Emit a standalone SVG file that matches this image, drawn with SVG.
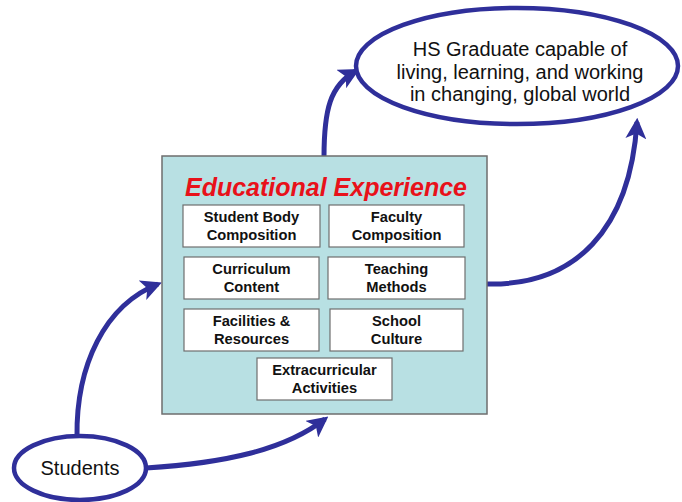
<svg xmlns="http://www.w3.org/2000/svg" width="682" height="502" viewBox="0 0 682 502">
<defs>
<marker id="ah" viewBox="0 0 10 10" refX="8" refY="5" markerWidth="4.2" markerHeight="4.2" orient="auto" markerUnits="strokeWidth">
<path d="M0,0 L10,5 L0,10 L2.5,5 z" fill="#2f2f9a"/>
</marker>
<style>
.conn{fill:none;stroke:#2f2f9a;stroke-width:5;marker-end:url(#ah)}
.ell{fill:#ffffff;stroke:#2f2f9a;stroke-width:4.5}
.box{fill:#ffffff;stroke:#6e6e6e;stroke-width:1.2}
.t{font-family:"Liberation Sans",Arial,sans-serif;font-weight:bold;font-size:14.7px;fill:#111;text-anchor:middle}
.e{font-family:"Liberation Sans",Arial,sans-serif;font-size:20px;fill:#111;text-anchor:middle}
</style>
</defs>
<rect width="682" height="502" fill="#ffffff"/>
<g id="connectors">
<path class="conn" d="M77,437 C76,365 105,305 158,284"/>
<path class="conn" d="M146,468 C225,463 285,450 325,419"/>
<path class="conn" d="M324,157 C324,110 330,85 356,71"/>
<path class="conn" d="M487,284 C575,286 630,230 637,122"/>
</g>
<g id="main">
<rect x="162" y="156" width="325" height="258" fill="#b8e0e3" stroke="#6e6e6e" stroke-width="1.5"/>
<text x="326" y="196" font-family="'Liberation Sans',Arial,sans-serif" font-weight="bold" font-style="italic" font-size="25" fill="#e8111a" text-anchor="middle">Educational Experience</text>
</g>
<g id="n1"><rect class="box" x="183" y="205" width="137" height="42"/><text class="t" x="251.5" y="222">Student Body</text><text class="t" x="251.5" y="240">Composition</text></g>
<g id="n2"><rect class="box" x="329" y="205" width="135" height="42"/><text class="t" x="396.5" y="222">Faculty</text><text class="t" x="396.5" y="240">Composition</text></g>
<g id="n3"><rect class="box" x="184" y="257" width="135" height="42"/><text class="t" x="251.5" y="274">Curriculum</text><text class="t" x="251.5" y="292">Content</text></g>
<g id="n4"><rect class="box" x="328" y="257" width="137" height="42"/><text class="t" x="396.5" y="274">Teaching</text><text class="t" x="396.5" y="292">Methods</text></g>
<g id="n5"><rect class="box" x="184" y="309" width="135" height="42"/><text class="t" x="251.5" y="326">Facilities &amp;</text><text class="t" x="251.5" y="344">Resources</text></g>
<g id="n6"><rect class="box" x="330" y="309" width="133" height="42"/><text class="t" x="396.5" y="326">School</text><text class="t" x="396.5" y="344">Culture</text></g>
<g id="n7"><rect class="box" x="257" y="358" width="135" height="42"/><text class="t" x="324.5" y="375">Extracurricular</text><text class="t" x="324.5" y="393">Activities</text></g>
<g id="graduate"><ellipse class="ell" cx="517" cy="66" rx="161" ry="58"/>
<text class="e" x="520" y="56">HS Graduate capable of</text>
<text class="e" x="520" y="79">living, learning, and working</text>
<text class="e" x="520" y="101">in changing, global world</text></g>
<g id="students"><ellipse class="ell" cx="80" cy="468" rx="66" ry="32"/><text class="e" x="80" y="475">Students</text></g>
</svg>
